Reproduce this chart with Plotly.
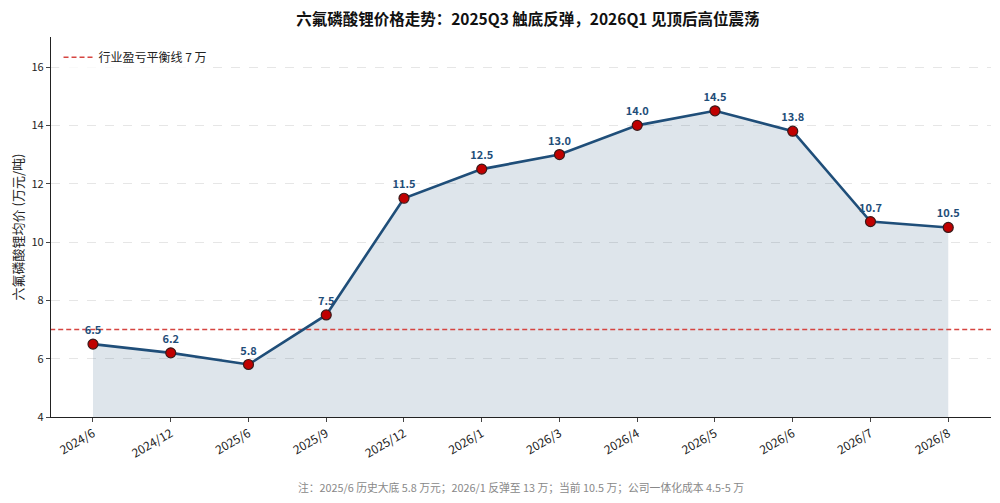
import plotly.graph_objects as go

months = ["2024/6", "2024/12", "2025/6", "2025/9", "2025/12", "2026/1",
          "2026/3", "2026/4", "2026/5", "2026/6", "2026/7", "2026/8"]
prices = [6.5, 6.2, 5.8, 7.5, 11.5, 12.5, 13.0, 14.0, 14.5, 13.8, 10.7, 10.5]
breakeven = 7

font_cn = "Noto Sans CJK SC"
line_col = "#1f4e79"
xs = list(range(len(months)))

fig = go.Figure()

# filled area under the price line
fig.add_trace(go.Scatter(
    x=xs, y=prices, mode="lines",
    line=dict(color="rgba(31,78,121,0.12)", width=1),
    fill="tozeroy", fillcolor="rgba(31,78,121,0.15)",
    showlegend=False, hoverinfo="skip"))

# break-even dashed line (as a trace so it shows in legend)
fig.add_trace(go.Scatter(
    x=[-0.55, 11.55], y=[breakeven, breakeven], mode="lines",
    line=dict(color="#d64541", width=1.5, dash="5px,3px"),
    name="行业盈亏平衡线 7 万"))

fig.add_trace(go.Scatter(
    x=xs, y=prices, mode="lines+markers+text",
    line=dict(color=line_col, width=2.6),
    marker=dict(size=10, color="#c00000", line=dict(color="#3a1a1a", width=1.2)),
    text=[f"{v:.1f}" for v in prices], textposition="top center",
    textfont=dict(family=font_cn, size=11, color=line_col, weight="bold"),
    showlegend=False))

# page body has an 8px margin, so the figure is sized a bit smaller
fig.update_layout(
    width=992, height=495,
    paper_bgcolor="white", plot_bgcolor="white",
    font=dict(family=font_cn, size=11, color="#222"),
    margin=dict(l=43, r=9, t=29, b=86, autoexpand=False),
    title=dict(text="<b>六氟磷酸锂价格走势：2025Q3 触底反弹，2026Q1 见顶后高位震荡</b>",
               x=0.524, xanchor="center", y=0.976, yanchor="middle",
               font=dict(size=15.5, color="#111")),
    legend=dict(x=0.008, y=0.985, xanchor="left", yanchor="top",
                bgcolor="rgba(255,255,255,0.8)", font=dict(size=12)),
)

fig.update_xaxes(
    tickmode="array", tickvals=xs, ticktext=months, automargin=False,
    range=[-0.54, 11.55], tickangle=-30, ticks="outside", ticklen=4,
    showline=True, linecolor="#222", linewidth=1.2, showgrid=False,
    zeroline=False, tickfont=dict(size=12))

fig.update_yaxes(
    range=[4, 17.03], dtick=2, ticks="outside", ticklen=4, automargin=False,
    showline=True, linecolor="#222", linewidth=1.2,
    showgrid=True, gridcolor="#e6e6e6", griddash="dash", gridwidth=1,
    zeroline=False, tickfont=dict(size=11),
    title=dict(text="六氟磷酸锂均价 (万元/吨)", font=dict(size=13), standoff=10))

fig.add_annotation(
    text="注：2025/6 历史大底 5.8 万元；2026/1 反弹至 13 万；当前 10.5 万；公司一体化成本 4.5-5 万",
    xref="paper", yref="paper", x=0.5, y=-0.184, xanchor="center", yanchor="middle",
    showarrow=False, font=dict(size=10.8, color="#888"))

fig.write_html("out.html")
